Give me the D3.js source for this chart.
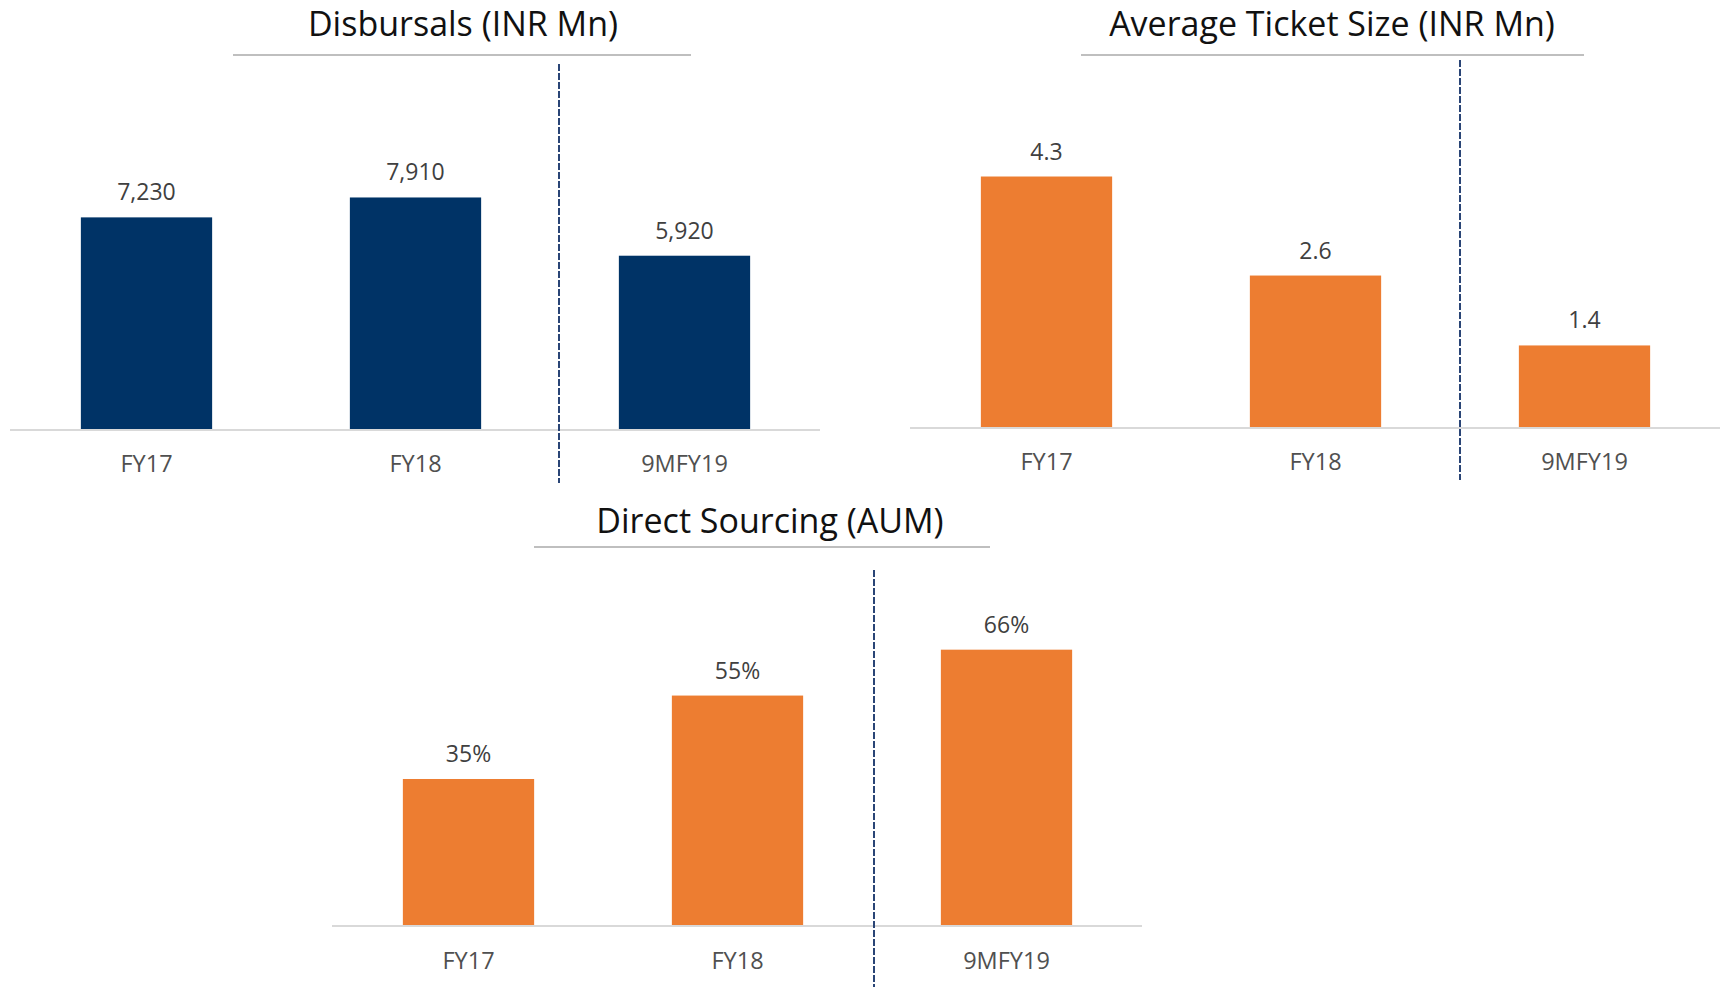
<!DOCTYPE html>
<html>
<head>
<meta charset="utf-8">
<script src="https://cdn.jsdelivr.net/npm/d3@7"></script>
<style>
  body { margin: 0; background: #fff; }
  svg { display: block; font-family: 'Open Sans', sans-serif; }
</style>
</head>
<body>
<svg width="1727" height="987"></svg>
<script>
// Data
const categories = ['FY17', 'FY18', '9MFY19']
const disbursals = [7230, 7910, 5920]
const ticketSize = [4.3, 2.6, 1.4]
const directSourcing = [35, 55, 66]

const navy = '#003366',
  orange = '#ED7D31',
  dashColor = '#2a4576'

const svg = d3.select('svg')

// one panel = title, underline, bars, labels, baseline, dashed divider
const drawPanel = (opts) => {
  const g = svg.append('g')

  let xScale = d3
    .scaleBand()
    .domain(categories)
    .range([opts.x0, opts.x1])
    .paddingInner(0.512)
    .paddingOuter(0.256)

  let yScale = d3
    .scaleLinear()
    .domain([0, opts.yMax])
    .range([opts.base, opts.top])

  // title
  g.append('text')
    .attr('x', opts.titleX)
    .attr('y', opts.titleY)
    .attr('text-anchor', 'middle')
    .style('font-size', '34px')
    .style('fill', '#111')
    .text(opts.title)

  g.append('line')
    .attr('x1', opts.ulX0)
    .attr('x2', opts.ulX1)
    .attr('y1', opts.ulY)
    .attr('y2', opts.ulY)
    .attr('stroke', '#bfbfbf')
    .attr('stroke-width', 2)

  // bars
  g.selectAll('rect.bar')
    .data(opts.values)
    .enter()
    .append('rect')
    .attr('class', 'bar')
    .attr('x', (d, i) => xScale(categories[i]))
    .attr('width', xScale.bandwidth())
    .attr('y', (d) => yScale(d))
    .attr('height', (d) => opts.base - yScale(d))
    .style('fill', opts.color)

  // value labels
  g.selectAll('text.val')
    .data(opts.values)
    .enter()
    .append('text')
    .attr('class', 'val')
    .attr('x', (d, i) => xScale(categories[i]) + xScale.bandwidth() / 2)
    .attr('y', (d) => yScale(d) - 17)
    .attr('text-anchor', 'middle')
    .style('font-size', '23px')
    .style('fill', '#404040')
    .text(opts.fmt)

  // baseline + category axis
  let xAxis = d3.axisBottom(xScale).tickSize(0).tickPadding(0)
  let axisG = g.append('g')
    .attr('transform', `translate(0, ${opts.base})`)
    .call(xAxis)
  axisG.select('.domain').remove()
  axisG.selectAll('text')
    .attr('dy', null)
    .attr('y', opts.labelDy)
    .style('font-family', "'Open Sans', sans-serif")
    .style('font-size', '23.5px')
    .style('fill', '#505050')

  g.append('line')
    .attr('x1', opts.x0 - 2)
    .attr('x2', opts.x1 + 1)
    .attr('y1', opts.base + 1)
    .attr('y2', opts.base + 1)
    .attr('stroke', '#d9d9d9')
    .attr('stroke-width', 2)

  // divider between full years and 9M
  let divX = (xScale('FY18') + xScale.bandwidth() + xScale('9MFY19')) / 2 + opts.dashShift
  g.append('line')
    .attr('x1', divX)
    .attr('x2', divX)
    .attr('y1', opts.dashTop)
    .attr('y2', opts.dashBottom)
    .attr('stroke', dashColor)
    .attr('stroke-width', 2)
    .attr('stroke-dasharray', '7,2')
}

drawPanel({
  title: 'Disbursals (INR Mn)',
  values: disbursals,
  fmt: d3.format(','),
  color: navy,
  x0: 12, x1: 819,
  base: 429, top: 64, yMax: 12470,
  titleX: 463, titleY: 36,
  ulX0: 233, ulX1: 691, ulY: 55,
  dashTop: 64, dashBottom: 483, dashShift: 9,
  labelDy: 43
})

drawPanel({
  title: 'Average Ticket Size (INR Mn)',
  values: ticketSize,
  fmt: d3.format('.1f'),
  color: orange,
  x0: 912, x1: 1719,
  base: 427, top: 60, yMax: 6.3,
  titleX: 1332, titleY: 36,
  ulX0: 1081, ulX1: 1584, ulY: 55,
  dashTop: 60, dashBottom: 480, dashShift: 10,
  labelDy: 43
})

drawPanel({
  title: 'Direct Sourcing (AUM)',
  values: directSourcing,
  fmt: (d) => d + '%',
  color: orange,
  x0: 334, x1: 1141,
  base: 925, top: 570, yMax: 85.1,
  titleX: 770, titleY: 533,
  ulX0: 534, ulX1: 990, ulY: 547,
  dashTop: 570, dashBottom: 987, dashShift: 2,
  labelDy: 44
})
</script>
</body>
</html>
